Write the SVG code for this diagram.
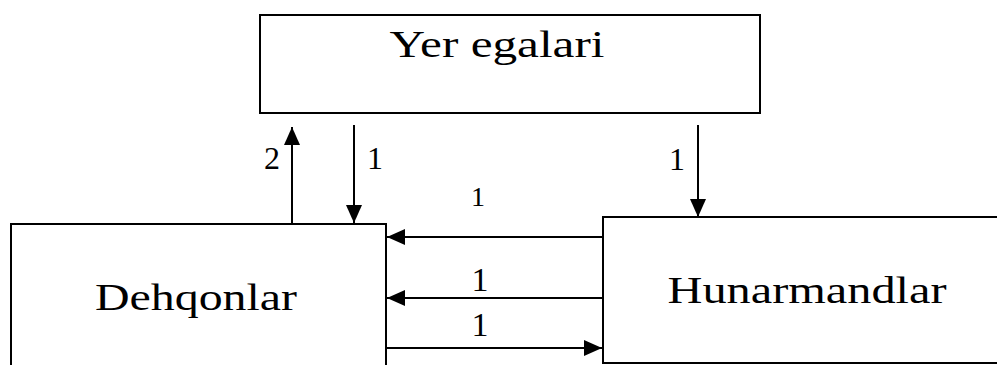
<svg xmlns="http://www.w3.org/2000/svg" width="997" height="365" viewBox="0 0 997 365">
<defs>
<marker id="a" viewBox="0 0 18 18" refX="18" refY="9" markerWidth="18" markerHeight="18" markerUnits="userSpaceOnUse" orient="auto">
<path d="M0,1 L18,9 L0,17 Z" fill="#000"/>
</marker>
</defs>
<style>
.box{fill:#fff;stroke:#000;stroke-width:2}
text{font-family:'Liberation Serif',Tinos,'Times New Roman',Times,serif;fill:#000}
.ttl{font-size:38px}
.num{font-size:32px}
.con line{stroke:#000;stroke-width:2;marker-end:url(#a)}
</style>
<rect width="997" height="365" fill="#fff"/>
<g id="yer-egalari">
<rect class="box" x="260" y="15" width="500" height="98"/>
<text class="ttl" x="497" y="57" text-anchor="middle" textLength="215" lengthAdjust="spacingAndGlyphs">Yer egalari</text>
</g>
<g id="dehqonlar">
<rect class="box" x="11" y="224" width="375" height="160"/>
<text class="ttl" x="196" y="310" text-anchor="middle" textLength="202" lengthAdjust="spacingAndGlyphs">Dehqonlar</text>
</g>
<g id="hunarmandlar">
<rect class="box" x="603" y="217" width="400" height="146"/>
<text class="ttl" x="807" y="303" text-anchor="middle" textLength="279" lengthAdjust="spacingAndGlyphs">Hunarmandlar</text>
</g>
<g id="connectors" class="con">
<line x1="292" y1="223" x2="292" y2="127"/>
<line x1="354" y1="125" x2="354" y2="223"/>
<line x1="698" y1="125" x2="698" y2="217"/>
<line x1="603" y1="237" x2="387" y2="237"/>
<line x1="603" y1="298" x2="387" y2="298"/>
<line x1="387" y1="348" x2="602" y2="348"/>
</g>
<g id="labels">
<text class="num" x="272" y="169" text-anchor="middle">2</text>
<text class="num" x="375" y="169" text-anchor="middle">1</text>
<text class="num" x="677" y="170" text-anchor="middle">1</text>
<text style="font-size:28px" x="478" y="206" text-anchor="middle">1</text>
<text style="font-size:34px" x="480" y="291" text-anchor="middle">1</text>
<text style="font-size:34px" x="480" y="336" text-anchor="middle">1</text>
</g>
</svg>
